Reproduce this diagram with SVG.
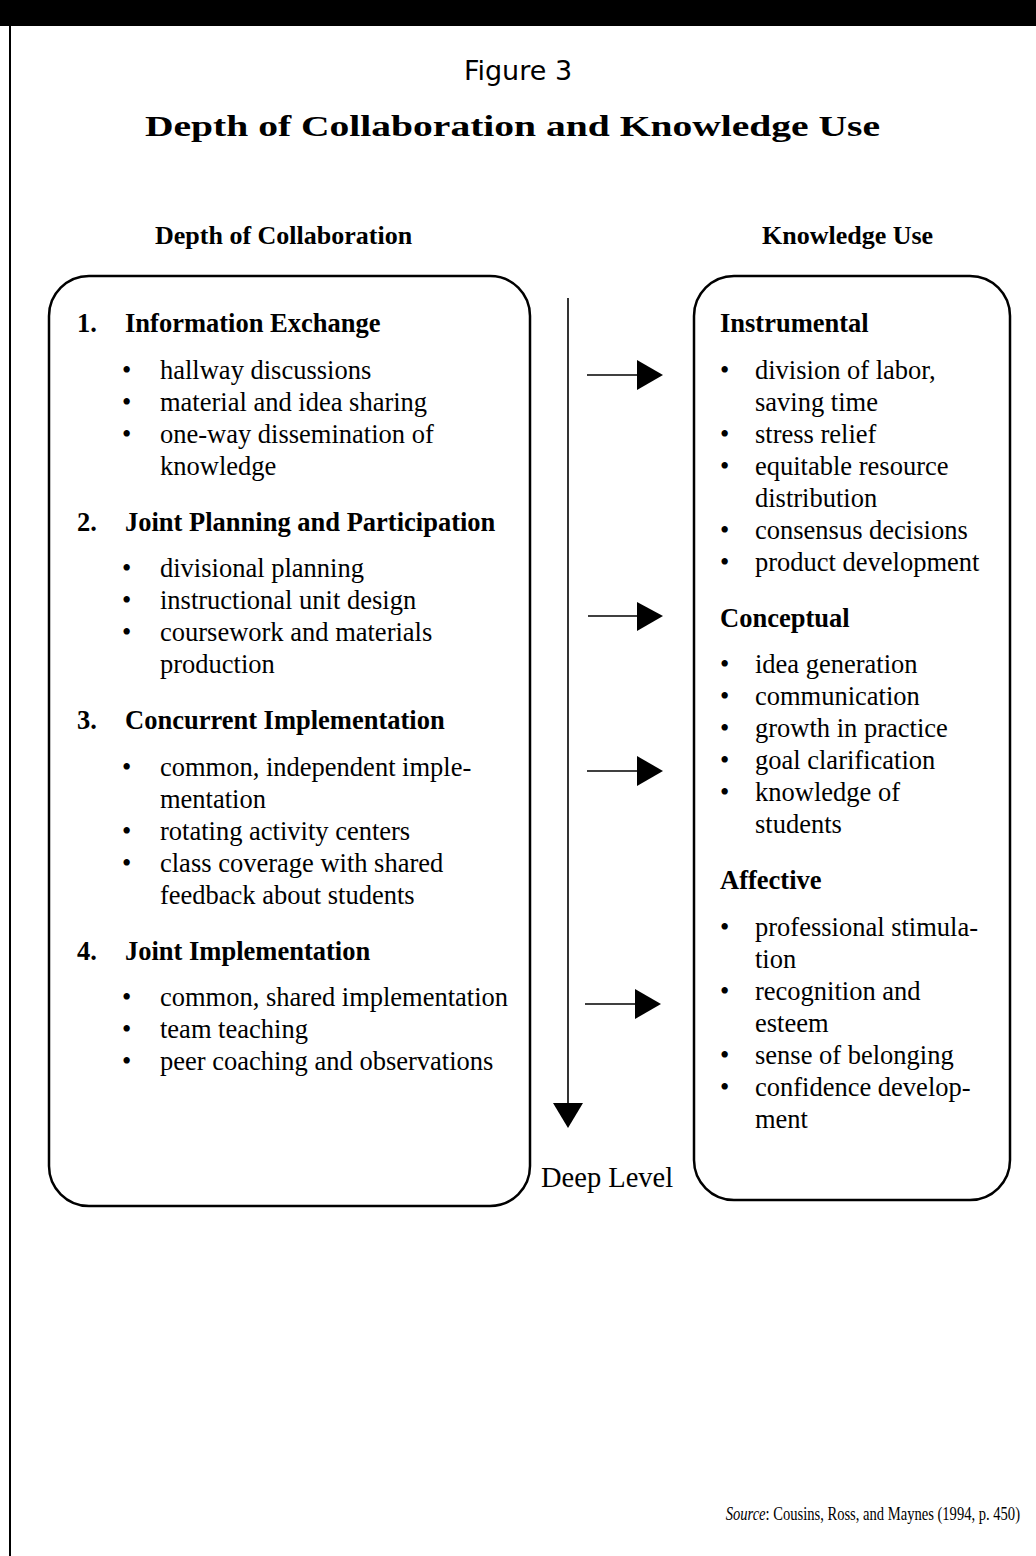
<svg xmlns="http://www.w3.org/2000/svg" width="1036" height="1556" viewBox="0 0 1036 1556">
<style>
.t{font-family:"Liberation Serif","Times New Roman",serif;font-size:26.5px;fill:#000}
.b{font-weight:bold}
.box{fill:none;stroke:#000;stroke-width:2.5}
.ln{stroke:#000;stroke-width:1.6;fill:none}
</style>
<rect x="0" y="0" width="1036" height="1556" fill="#fff"/>
<rect x="0" y="0" width="1036" height="26" fill="#000"/>
<line x1="10" y1="26" x2="10" y2="1556" stroke="#000" stroke-width="2"/>
<g id="title">
<text x="518" y="80" text-anchor="middle" style="font-family:'DejaVu Sans',sans-serif;font-size:27px">Figure 3</text>
<text x="145" y="136" class="t b" style="font-size:30px" textLength="735" lengthAdjust="spacingAndGlyphs">Depth of Collaboration and Knowledge Use</text>
</g>
<g id="headers">
<text x="155" y="244" class="t b" style="font-size:26px">Depth of Collaboration</text>
<text x="762" y="244" class="t b" style="font-size:26px">Knowledge Use</text>
</g>
<g id="depth-box">
<rect x="49" y="276" width="481" height="930" rx="40" ry="40" class="box"/>
<text class="t b"><tspan x="77" y="332">1.</tspan><tspan x="125" y="332">Information Exchange</tspan></text>
<text class="t"><tspan x="122" y="379">•</tspan><tspan x="160" y="379">hallway discussions</tspan>
<tspan x="122" y="411">•</tspan><tspan x="160" y="411">material and idea sharing</tspan>
<tspan x="122" y="443">•</tspan><tspan x="160" y="443">one-way dissemination of</tspan>
<tspan x="160" y="475">knowledge</tspan></text>
<text class="t b"><tspan x="77" y="531">2.</tspan><tspan x="125" y="531">Joint Planning and Participation</tspan></text>
<text class="t"><tspan x="122" y="577">•</tspan><tspan x="160" y="577">divisional planning</tspan>
<tspan x="122" y="609">•</tspan><tspan x="160" y="609">instructional unit design</tspan>
<tspan x="122" y="641">•</tspan><tspan x="160" y="641">coursework and materials</tspan>
<tspan x="160" y="673">production</tspan></text>
<text class="t b"><tspan x="77" y="729">3.</tspan><tspan x="125" y="729">Concurrent Implementation</tspan></text>
<text class="t"><tspan x="122" y="776">•</tspan><tspan x="160" y="776">common, independent imple-</tspan>
<tspan x="160" y="808">mentation</tspan>
<tspan x="122" y="840">•</tspan><tspan x="160" y="840">rotating activity centers</tspan>
<tspan x="122" y="872">•</tspan><tspan x="160" y="872">class coverage with shared</tspan>
<tspan x="160" y="904">feedback about students</tspan></text>
<text class="t b"><tspan x="77" y="960">4.</tspan><tspan x="125" y="960">Joint Implementation</tspan></text>
<text class="t"><tspan x="122" y="1006">•</tspan><tspan x="160" y="1006">common, shared implementation</tspan>
<tspan x="122" y="1038">•</tspan><tspan x="160" y="1038">team teaching</tspan>
<tspan x="122" y="1070">•</tspan><tspan x="160" y="1070">peer coaching and observations</tspan></text>
</g>
<g id="knowledge-box">
<rect x="694" y="276" width="316" height="924" rx="40" ry="40" class="box"/>
<text x="720" y="332" class="t b">Instrumental</text>
<text class="t"><tspan x="720" y="379">•</tspan><tspan x="755" y="379">division of labor,</tspan>
<tspan x="755" y="411">saving time</tspan>
<tspan x="720" y="443">•</tspan><tspan x="755" y="443">stress relief</tspan>
<tspan x="720" y="475">•</tspan><tspan x="755" y="475">equitable resource</tspan>
<tspan x="755" y="507">distribution</tspan>
<tspan x="720" y="539">•</tspan><tspan x="755" y="539">consensus decisions</tspan>
<tspan x="720" y="571">•</tspan><tspan x="755" y="571">product development</tspan></text>
<text x="720" y="627" class="t b">Conceptual</text>
<text class="t"><tspan x="720" y="673">•</tspan><tspan x="755" y="673">idea generation</tspan>
<tspan x="720" y="705">•</tspan><tspan x="755" y="705">communication</tspan>
<tspan x="720" y="737">•</tspan><tspan x="755" y="737">growth in practice</tspan>
<tspan x="720" y="769">•</tspan><tspan x="755" y="769">goal clarification</tspan>
<tspan x="720" y="801">•</tspan><tspan x="755" y="801">knowledge of</tspan>
<tspan x="755" y="833">students</tspan></text>
<text x="720" y="889" class="t b">Affective</text>
<text class="t"><tspan x="720" y="936">•</tspan><tspan x="755" y="936">professional stimula-</tspan>
<tspan x="755" y="968">tion</tspan>
<tspan x="720" y="1000">•</tspan><tspan x="755" y="1000">recognition and</tspan>
<tspan x="755" y="1032">esteem</tspan>
<tspan x="720" y="1064">•</tspan><tspan x="755" y="1064">sense of belonging</tspan>
<tspan x="720" y="1096">•</tspan><tspan x="755" y="1096">confidence develop-</tspan>
<tspan x="755" y="1128">ment</tspan></text>
</g>
<g id="connectors">
<line x1="568" y1="298" x2="568" y2="1104" class="ln"/>
<polygon points="553,1103 583,1103 568,1128"/>
<line x1="587" y1="375" x2="638" y2="375" class="ln"/>
<polygon points="637,360 663,375 637,390"/>
<line x1="588" y1="616" x2="638" y2="616" class="ln"/>
<polygon points="637,602 663,616 637,631"/>
<line x1="587" y1="771" x2="638" y2="771" class="ln"/>
<polygon points="637,756 663,771 637,786"/>
<line x1="585" y1="1004" x2="636" y2="1004" class="ln"/>
<polygon points="635,989 661,1004 635,1019"/>
</g>
<g id="deep-level">
<text x="541" y="1187" class="t" style="font-size:28.5px">Deep Level</text>
</g>
<g id="source" transform="translate(1020,1520) scale(0.81,1)">
<text x="0" y="0" text-anchor="end" class="t" style="font-size:18px"><tspan font-style="italic">Source</tspan>: Cousins, Ross, and Maynes (1994, p. 450)</text>
</g>
</svg>
